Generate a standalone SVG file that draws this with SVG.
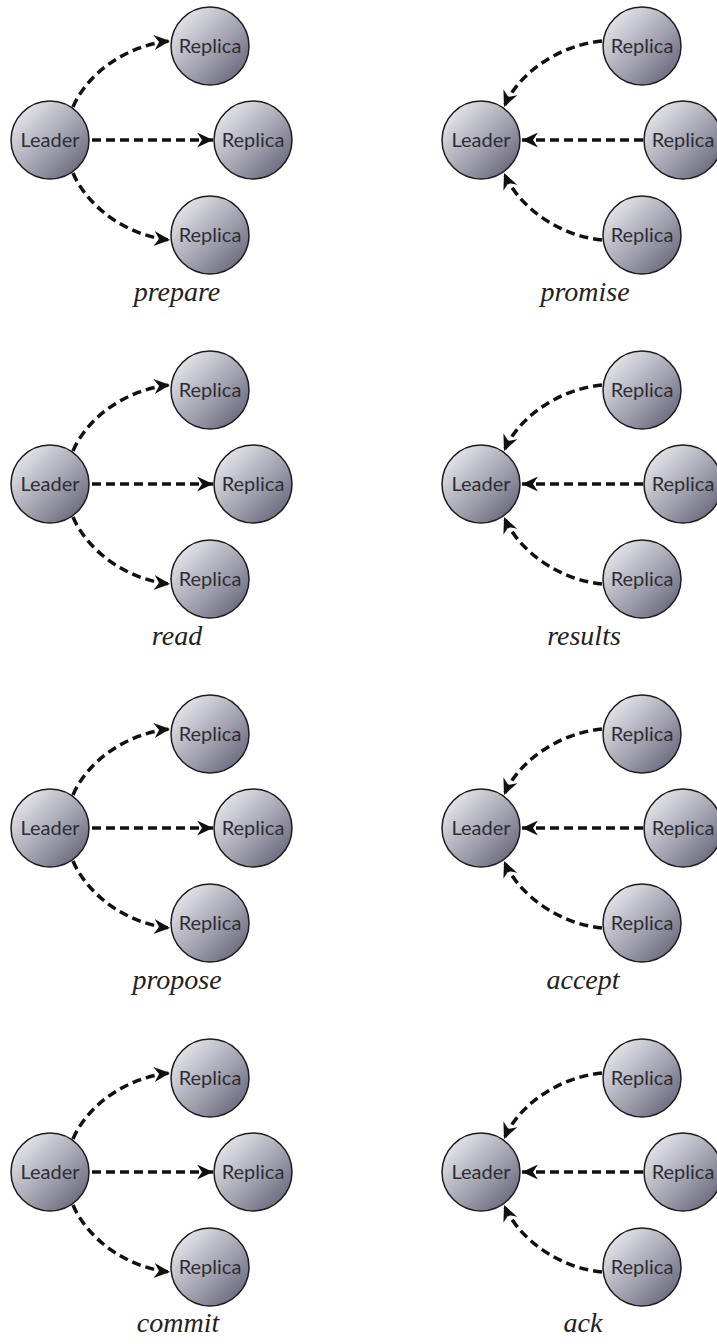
<svg xmlns="http://www.w3.org/2000/svg" width="717" height="1344" viewBox="0 0 717 1344">
  <defs>
    <linearGradient id="ball" x1="0.12" y1="0.1" x2="0.92" y2="0.9">
      <stop offset="0" stop-color="#e6e6ec"/>
      <stop offset="0.5" stop-color="#a9a9b6"/>
      <stop offset="1" stop-color="#66667a"/>
    </linearGradient>
    <marker id="head" markerUnits="userSpaceOnUse" markerWidth="18" markerHeight="16" refX="16" refY="7.5" orient="auto">
      <path d="M0,0 L16,7.5 L0,15 L5,7.5 Z" fill="#111"/>
    </marker>
    <style>
      .node circle { fill: url(#ball); stroke: #1c1c1c; stroke-width: 1.5; }
      .node text { font-family: Lato, "Open Sans", sans-serif; font-size: 20px; fill: #2e2e33; text-anchor: middle; }
      .msg { fill: none; stroke: #111; stroke-width: 3.5; stroke-dasharray: 9 5; marker-end: url(#head); }
      .label { font-family: "Liberation Serif", serif; font-style: italic; font-size: 28px; fill: #222; text-anchor: middle; }
    </style>
  </defs>
  <rect width="717" height="1344" fill="#ffffff"/>

  <!-- connectors: leader to replicas (left column), replicas to leader (right column) -->
  <g id="connectors">
    <!-- prepare (y=140) -->
    <path class="msg" d="M73,107 C88,72 128,45 170,41"/>
    <path class="msg" d="M92,140 L213,140"/>
    <path class="msg" d="M73,173 C88,208 128,236 170,240"/>
    <!-- promise -->
    <path class="msg" d="M602,41 C560,45 519,72 504,107"/>
    <path class="msg" d="M643,140 L522,140"/>
    <path class="msg" d="M602,240 C560,236 519,208 504,173"/>
    <!-- read (y=484) -->
    <path class="msg" d="M73,451 C88,416 128,389 170,385"/>
    <path class="msg" d="M92,484 L213,484"/>
    <path class="msg" d="M73,517 C88,552 128,580 170,584"/>
    <!-- results -->
    <path class="msg" d="M602,385 C560,389 519,416 504,451"/>
    <path class="msg" d="M643,484 L522,484"/>
    <path class="msg" d="M602,584 C560,580 519,552 504,517"/>
    <!-- propose (y=828) -->
    <path class="msg" d="M73,795 C88,760 128,733 170,729"/>
    <path class="msg" d="M92,828 L213,828"/>
    <path class="msg" d="M73,861 C88,896 128,924 170,928"/>
    <!-- accept -->
    <path class="msg" d="M602,729 C560,733 519,760 504,795"/>
    <path class="msg" d="M643,828 L522,828"/>
    <path class="msg" d="M602,928 C560,924 519,896 504,861"/>
    <!-- commit (y=1172) -->
    <path class="msg" d="M73,1139 C88,1104 128,1077 170,1073"/>
    <path class="msg" d="M92,1172 L213,1172"/>
    <path class="msg" d="M73,1205 C88,1240 128,1268 170,1272"/>
    <!-- ack -->
    <path class="msg" d="M602,1073 C560,1077 519,1104 504,1139"/>
    <path class="msg" d="M643,1172 L522,1172"/>
    <path class="msg" d="M602,1272 C560,1268 519,1240 504,1205"/>
  </g>

  <!-- prepare -->
  <g id="prepare-leader" class="node" transform="translate(50,140)"><circle r="39"/><text y="7">Leader</text></g>
  <g id="prepare-replica-1" class="node" transform="translate(210,46)"><circle r="39"/><text y="7">Replica</text></g>
  <g id="prepare-replica-2" class="node" transform="translate(253,140)"><circle r="39"/><text y="7">Replica</text></g>
  <g id="prepare-replica-3" class="node" transform="translate(210,235)"><circle r="39"/><text y="7">Replica</text></g>
  <text class="label" x="177" y="301">prepare</text>

  <!-- promise -->
  <g id="promise-leader" class="node" transform="translate(481,140)"><circle r="39"/><text y="7">Leader</text></g>
  <g id="promise-replica-1" class="node" transform="translate(642,46)"><circle r="39"/><text y="7">Replica</text></g>
  <g id="promise-replica-2" class="node" transform="translate(683,140)"><circle r="39"/><text y="7">Replica</text></g>
  <g id="promise-replica-3" class="node" transform="translate(642,235)"><circle r="39"/><text y="7">Replica</text></g>
  <text class="label" x="585" y="301">promise</text>

  <!-- read -->
  <g id="read-leader" class="node" transform="translate(50,484)"><circle r="39"/><text y="7">Leader</text></g>
  <g id="read-replica-1" class="node" transform="translate(210,390)"><circle r="39"/><text y="7">Replica</text></g>
  <g id="read-replica-2" class="node" transform="translate(253,484)"><circle r="39"/><text y="7">Replica</text></g>
  <g id="read-replica-3" class="node" transform="translate(210,579)"><circle r="39"/><text y="7">Replica</text></g>
  <text class="label" x="177" y="645">read</text>

  <!-- results -->
  <g id="results-leader" class="node" transform="translate(481,484)"><circle r="39"/><text y="7">Leader</text></g>
  <g id="results-replica-1" class="node" transform="translate(642,390)"><circle r="39"/><text y="7">Replica</text></g>
  <g id="results-replica-2" class="node" transform="translate(683,484)"><circle r="39"/><text y="7">Replica</text></g>
  <g id="results-replica-3" class="node" transform="translate(642,579)"><circle r="39"/><text y="7">Replica</text></g>
  <text class="label" x="584" y="645">results</text>

  <!-- propose -->
  <g id="propose-leader" class="node" transform="translate(50,828)"><circle r="39"/><text y="7">Leader</text></g>
  <g id="propose-replica-1" class="node" transform="translate(210,734)"><circle r="39"/><text y="7">Replica</text></g>
  <g id="propose-replica-2" class="node" transform="translate(253,828)"><circle r="39"/><text y="7">Replica</text></g>
  <g id="propose-replica-3" class="node" transform="translate(210,923)"><circle r="39"/><text y="7">Replica</text></g>
  <text class="label" x="177" y="989">propose</text>

  <!-- accept -->
  <g id="accept-leader" class="node" transform="translate(481,828)"><circle r="39"/><text y="7">Leader</text></g>
  <g id="accept-replica-1" class="node" transform="translate(642,734)"><circle r="39"/><text y="7">Replica</text></g>
  <g id="accept-replica-2" class="node" transform="translate(683,828)"><circle r="39"/><text y="7">Replica</text></g>
  <g id="accept-replica-3" class="node" transform="translate(642,923)"><circle r="39"/><text y="7">Replica</text></g>
  <text class="label" x="583" y="989">accept</text>

  <!-- commit -->
  <g id="commit-leader" class="node" transform="translate(50,1172)"><circle r="39"/><text y="7">Leader</text></g>
  <g id="commit-replica-1" class="node" transform="translate(210,1078)"><circle r="39"/><text y="7">Replica</text></g>
  <g id="commit-replica-2" class="node" transform="translate(253,1172)"><circle r="39"/><text y="7">Replica</text></g>
  <g id="commit-replica-3" class="node" transform="translate(210,1267)"><circle r="39"/><text y="7">Replica</text></g>
  <text class="label" x="178" y="1332">commit</text>

  <!-- ack -->
  <g id="ack-leader" class="node" transform="translate(481,1172)"><circle r="39"/><text y="7">Leader</text></g>
  <g id="ack-replica-1" class="node" transform="translate(642,1078)"><circle r="39"/><text y="7">Replica</text></g>
  <g id="ack-replica-2" class="node" transform="translate(683,1172)"><circle r="39"/><text y="7">Replica</text></g>
  <g id="ack-replica-3" class="node" transform="translate(642,1267)"><circle r="39"/><text y="7">Replica</text></g>
  <text class="label" x="583" y="1332">ack</text>
</svg>
